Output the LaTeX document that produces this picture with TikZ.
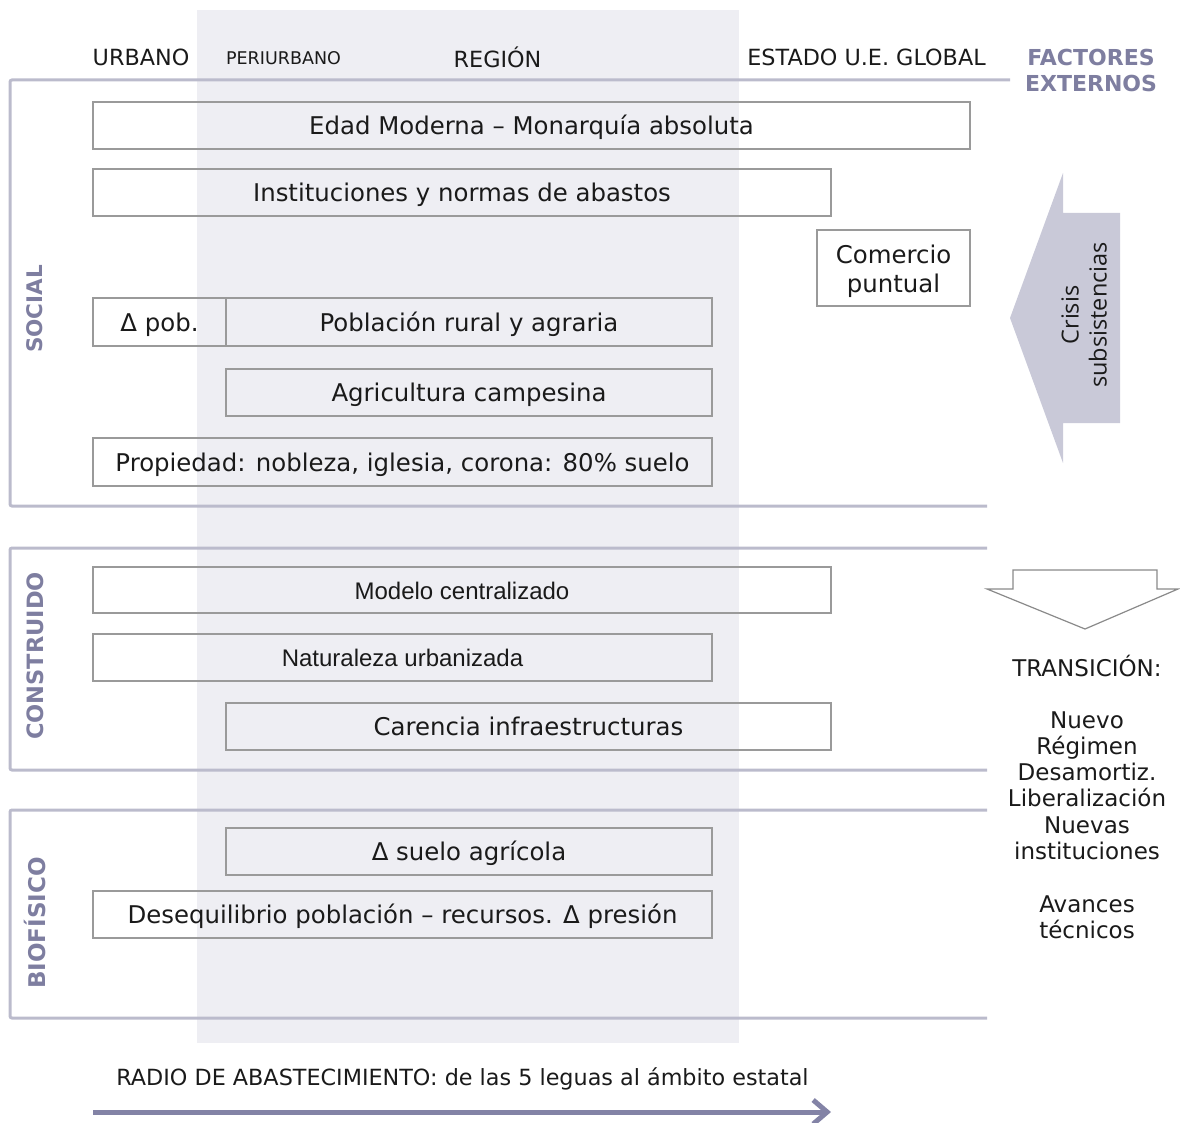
\documentclass[tikz,border=0pt]{standalone}
\usepackage{fontspec}
\setmainfont{DejaVu Sans}
\newfontfamily\arialfont{Liberation Sans}
\newfontfamily\opensansfont{Open Sans}
\usetikzlibrary{arrows.meta}
\definecolor{band}{HTML}{EEEEF3}
\definecolor{framec}{HTML}{BBBBCC}
\definecolor{labelc}{HTML}{7E7EA0}
\definecolor{crisisc}{HTML}{C9C9D8}
\definecolor{boxgray}{HTML}{9A9A9A}
\definecolor{ink}{HTML}{1A1A1A}
\definecolor{arrowgray}{HTML}{8A8A8A}
\definecolor{radioc}{HTML}{8383A6}
\begin{document}
\begin{tikzpicture}[x=1pt,y=-1pt,
  framed/.style={draw=boxgray, line width=1.4pt, inner sep=0pt, text=ink,
    font=\fontsize{24.4}{29}\selectfont},
  cell/.style={framed, text height=18pt, text depth=0pt},
  hdr/.style={text=ink, font=\fontsize{22.3}{26}\selectfont},
  sect/.style={text=labelc, rotate=90, font=\bfseries\fontsize{21.5}{25}\selectfont},
  frame/.style={draw=framec, line width=3pt, rounded corners=2pt},
  side/.style={text=ink, align=center, font=\fontsize{23}{26.3}\selectfont}]
\useasboundingbox (0,0) rectangle (1180,1123);

% shaded band of the regional scale
\fill[band] (197,10) rectangle (739,1043);

% column headings
\node[hdr] (urbano) at (141,57) {URBANO};
\node[hdr, font=\fontsize{17.5}{20}\selectfont] (periurbano) at (283.5,58) {PERIURBANO};
\node[hdr] (region) at (497.5,57) {REGIÓN};
\node[hdr] (estado) at (866.5,57) {ESTADO U.E. GLOBAL};
\node[text=labelc, align=center, font=\bfseries\fontsize{22}{26}\selectfont] (factores) at (1091,70) {FACTORES\\EXTERNOS};

% section frames, open to the right
\draw[frame] (1010,80) -- (10,80) -- (10,506) -- (987,506);
\draw[frame] (987,548) -- (10,548) -- (10,770) -- (987,770);
\draw[frame] (987,810) -- (10,810) -- (10,1018) -- (987,1018);

\node[sect] (social) at (35,309) {SOCIAL};
\node[sect, font=\bfseries\fontsize{22.5}{25}\selectfont] (construido) at (35,656) {CONSTRUIDO};
\node[sect, font=\bfseries\fontsize{23}{25}\selectfont] (biofisico) at (35,923) {BIOFÍSICO};

% SOCIAL
\node[cell, minimum width=877, minimum height=47] (edad) at (531.5,125.5) {Edad Moderna – Monarquía absoluta};
\node[cell, minimum width=738, minimum height=47] (inst) at (462,192.5) {Instituciones y normas de abastos};
\node[framed, minimum width=153, minimum height=76, align=center] (comercio) at (893.5,268) {};
\node[text=ink, align=center, font=\fontsize{24.4}{29}\selectfont] (comtext) at (893.5,271) {Comercio\\puntual};
\node[cell, minimum width=133, minimum height=48] (dpob) at (159.5,322) {Δ pob.};
\node[cell, minimum width=486, minimum height=48] (pobl) at (469,322) {Población rural y agraria};
\node[cell, minimum width=486, minimum height=47] (agri) at (469,392.5) {Agricultura campesina};
\node[cell, minimum width=619, minimum height=48] (prop) at (402.5,462) {Propiedad: nobleza, iglesia, corona: 80\% suelo};

% CONSTRUIDO
\node[cell, minimum width=738, minimum height=46, font=\arialfont\fontsize{24}{28}\selectfont] (modelo) at (462,590) {Modelo centralizado};
\node[cell, minimum width=619, minimum height=47, font=\arialfont\fontsize{24}{28}\selectfont] (natur) at (402.5,657.5) {Naturaleza urbanizada};
\node[cell, minimum width=605, minimum height=47] (carencia) at (528.5,726.5) {Carencia infraestructuras};

% BIOFISICO
\node[cell, minimum width=486, minimum height=47] (suelo) at (469,851.5) {Δ suelo agrícola};
\node[cell, minimum width=619, minimum height=47] (deseq) at (402.5,914.5) {Desequilibrio población – recursos. Δ presión};

% external factor: subsistence crises
\fill[crisisc] (1010,318) -- (1063,173) -- (1063,213) -- (1120,213) -- (1120,423) -- (1063,423) -- (1063,463) -- cycle;
\node[rotate=90, align=center, text=ink, font=\opensansfont\fontsize{23.5}{28}\selectfont] (crisis) at (1084,315) {Crisis\\subsistencias};

% transition arrow and its factors
\draw[draw=arrowgray, line width=1.2pt, fill=white, line join=miter]
  (1013,570) -- (1157,570) -- (1157,589) -- (1178,589) -- (1085,629) -- (987,589) -- (1013,589) -- cycle;
\node[side] (transicion) at (1087,666) {TRANSICIÓN:};
\node[side] (factlist) at (1087,825) {Nuevo\\Régimen\\Desamortiz.\\Liberalización\\Nuevas\\instituciones\\[26.3pt]Avances\\técnicos};

% supply radius
\node[hdr] (radio) at (462.5,1079) {RADIO DE ABASTECIMIENTO: de las 5 leguas al ámbito estatal};
\coordinate (r0) at (93,1112);
\coordinate (r1) at (831,1112);
\draw[radioc, line width=5pt, -{Straight Barb[length=14pt,width=24pt]}] (r0) -- (r1);
\end{tikzpicture}
\end{document}
